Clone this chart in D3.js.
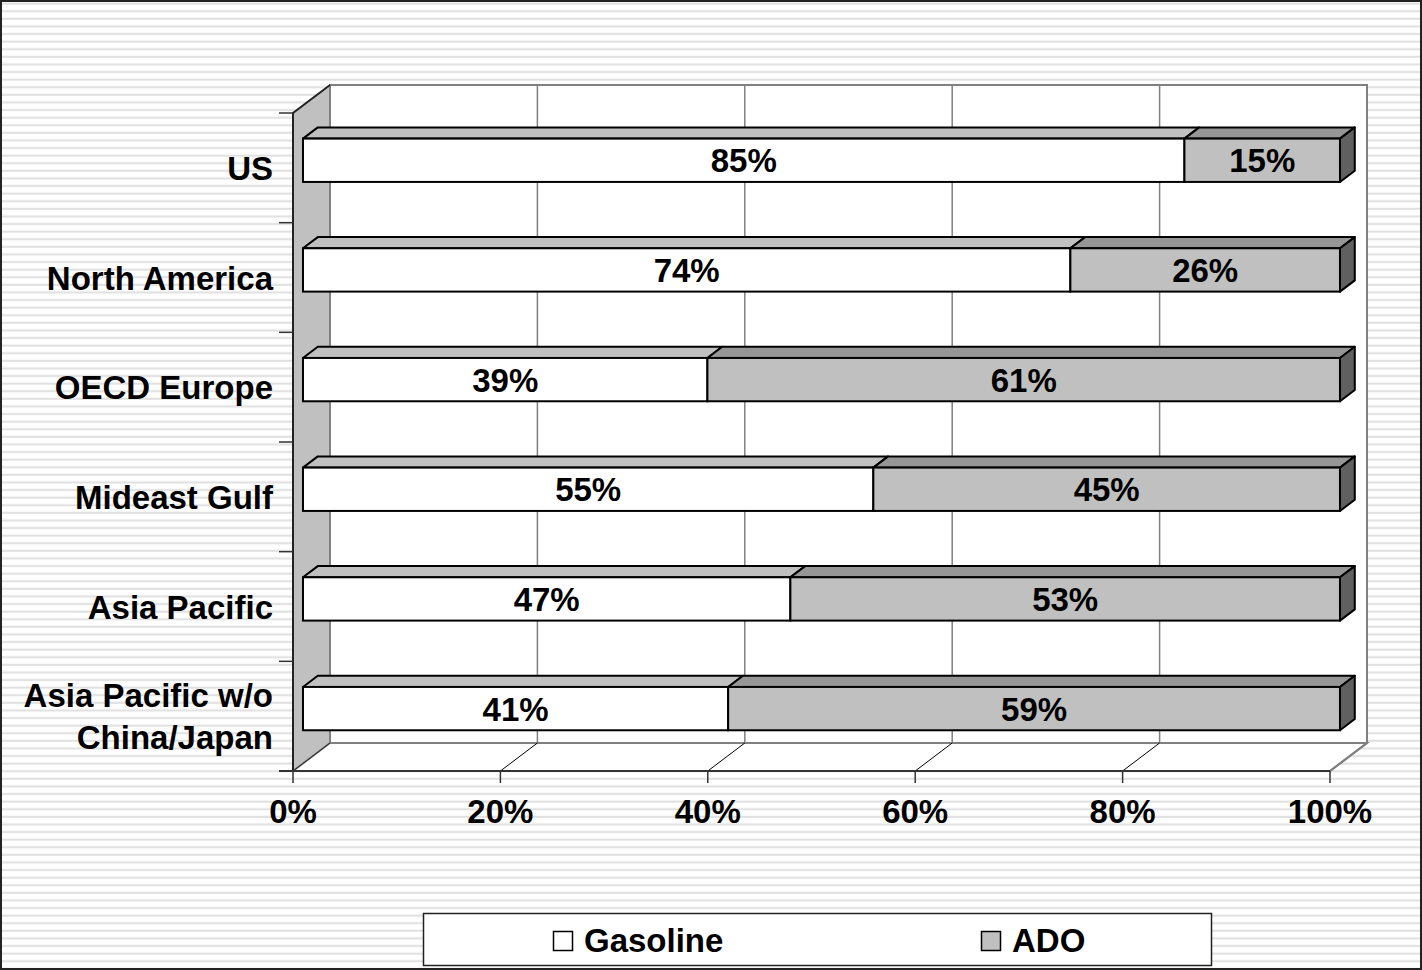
<!DOCTYPE html>
<html>
<head>
<meta charset="utf-8">
<script src="https://cdn.jsdelivr.net/npm/d3@7/dist/d3.min.js"></script>
<style>
  html, body { margin: 0; padding: 0; background: #fff; }
  svg { display: block; }
  text { font-family: Arial, "Liberation Sans", sans-serif; font-weight: bold; fill: #000; }
</style>
</head>
<body>
<svg id="chart" width="1422" height="970"></svg>
<script>
// Share of gasoline vs. ADO in light-fuel demand by region
const categories = ["US", "North America", "OECD Europe", "Mideast Gulf", "Asia Pacific", "Asia Pacific w/o\nChina/Japan"];
const gasoline = [85, 74, 39, 55, 47, 41];
const ado      = [15, 26, 61, 45, 53, 59];
const seriesNames = ["Gasoline", "ADO"];
const tickValues = [0, 20, 40, 60, 80, 100];
const tickLabels = ["0%", "20%", "40%", "60%", "80%", "100%"];

const W = 1422, H = 970;
const svg = d3.select("#chart");

// striped page background
const defs = svg.append("defs");
const pat = defs.append("pattern").attr("id", "stripes")
  .attr("patternUnits", "userSpaceOnUse").attr("width", 8).attr("height", 7.6);
pat.append("rect").attr("width", 8).attr("height", 7.6).attr("fill", "#ffffff");
pat.append("rect").attr("y", 2.6).attr("width", 8).attr("height", 2).attr("fill", "#e0e0e0");
svg.append("rect").attr("width", W).attr("height", H).attr("fill", "url(#stripes)");

// 3-D frame geometry: front plane and depth offset
const x = d3.scaleLinear().domain([0, 100]).range([293, 1330]);
const y = d3.scaleBand().domain(categories).range([113, 771]).padding(0);
const DX = 37, DY = -28;          // full depth of the plot box
const zFront = 0.27, zBack = 0.67; // bar depth span (fraction of box depth)
const barFrac = 0.395;             // bar thickness as fraction of band

const yTop = 113, yBot = 771;
const xL = x(0), xR = x(100);

// side wall (left)
svg.append("polygon")
  .attr("points", [[xL, yTop], [xL + DX, yTop + DY], [xL + DX, yBot + DY], [xL, yBot]].join(" "))
  .attr("fill", "#c0c0c0").attr("stroke", "none");
// back wall
svg.append("rect")
  .attr("x", xL + DX).attr("y", yTop + DY).attr("width", xR - xL).attr("height", yBot - yTop)
  .attr("fill", "#ffffff").attr("stroke", "#808080").attr("stroke-width", 2);
// floor
svg.append("polygon")
  .attr("points", [[xL, yBot], [xL + DX, yBot + DY], [xR + DX, yBot + DY], [xR, yBot]].join(" "))
  .attr("fill", "#ffffff").attr("stroke", "#808080").attr("stroke-width", 2);

// vertical gridlines on back wall + diagonal lines across floor
tickValues.forEach(v => {
  if (v > 0 && v < 100) {
    svg.append("line")
      .attr("x1", x(v) + DX).attr("x2", x(v) + DX)
      .attr("y1", yTop + DY).attr("y2", yBot + DY)
      .attr("stroke", "#808080").attr("stroke-width", 1.5);
  }
  if (v > 0) {
    svg.append("line")
      .attr("x1", x(v)).attr("y1", yBot)
      .attr("x2", x(v) + DX).attr("y2", yBot + DY)
      .attr("stroke", v === 100 ? "#808080" : "#000").attr("stroke-width", v === 100 ? 2 : 1);
  }
});

// side wall outline: front edge and top edge
svg.append("polyline")
  .attr("points", [[xL + DX, yTop + DY], [xL, yTop], [xL, yBot]].join(" "))
  .attr("fill", "none").attr("stroke", "#222").attr("stroke-width", 2);
svg.append("line")
  .attr("x1", xL).attr("y1", yBot).attr("x2", xL + DX).attr("y2", yBot + DY)
  .attr("stroke", "#222").attr("stroke-width", 1);

// front x-axis line and ticks
svg.append("line").attr("x1", xL - 14).attr("x2", xR).attr("y1", yBot).attr("y2", yBot)
  .attr("stroke", "#333").attr("stroke-width", 2);
tickValues.forEach((v, i) => {
  svg.append("line").attr("x1", x(v)).attr("x2", x(v)).attr("y1", yBot).attr("y2", yBot + 12)
    .attr("stroke", "#333").attr("stroke-width", 1.5);
  svg.append("text").attr("x", x(v)).attr("y", 823)
    .attr("text-anchor", "middle").attr("font-size", 33).text(tickLabels[i]);
});

// category boundary ticks on the left axis
const bounds = categories.map(c => y(c)).concat([yBot]);
bounds.forEach(b => {
  svg.append("line").attr("x1", xL - 14).attr("x2", xL).attr("y1", b).attr("y2", b)
    .attr("stroke", "#333").attr("stroke-width", 1.5);
});

// category labels (multi-line where needed)
categories.forEach(c => {
  const lines = c.split("\n");
  const cy = y(c) + y.bandwidth() / 2;
  const lh = 42;
  const t = svg.append("text").attr("text-anchor", "end").attr("font-size", 33);
  lines.forEach((ln, i) => {
    t.append("tspan").attr("x", 273)
      .attr("y", cy + (i - (lines.length - 1) / 2) * lh + 12)
      .text(ln);
  });
});

// stacked 3-D bars
const fdx = DX * zFront, fdy = DY * zFront;
const bdx = DX * (zBack - zFront), bdy = DY * (zBack - zFront);
const faceColors = ["#ffffff", "#c0c0c0"];
const topColors = ["#c0c0c0", "#969696"];
const sideColor = "#606060";

categories.forEach((c, i) => {
  const vals = [gasoline[i], ado[i]];
  const bw = y.bandwidth();
  const top = y(c) + bw * (1 - barFrac) / 2 + fdy;
  const bot = top + bw * barFrac;
  let acc = 0;
  const g = svg.append("g");
  vals.forEach((v, k) => {
    const X0 = x(acc) + fdx, X1 = x(acc + v) + fdx;
    // top face
    g.append("polygon")
      .attr("points", [[X0, top], [X0 + bdx, top + bdy], [X1 + bdx, top + bdy], [X1, top]].join(" "))
      .attr("fill", topColors[k]).attr("stroke", "#000").attr("stroke-width", 2)
      .attr("stroke-linejoin", "round");
    // front face
    g.append("rect").attr("x", X0).attr("y", top).attr("width", X1 - X0).attr("height", bot - top)
      .attr("fill", faceColors[k]).attr("stroke", "#000").attr("stroke-width", 2);
    // right end
    if (k === vals.length - 1) {
      g.append("polygon")
        .attr("points", [[X1, top], [X1 + bdx, top + bdy], [X1 + bdx, bot + bdy], [X1, bot]].join(" "))
        .attr("fill", sideColor).attr("stroke", "#000").attr("stroke-width", 2)
        .attr("stroke-linejoin", "round");
    }
    // value label
    g.append("text").attr("x", (X0 + X1) / 2).attr("y", (top + bot) / 2 + 12)
      .attr("text-anchor", "middle").attr("font-size", 33).text(v + "%");
    acc += v;
  });
});

// legend
const lg = svg.append("g");
lg.append("rect").attr("x", 423.5).attr("y", 913.5).attr("width", 788).attr("height", 52)
  .attr("fill", "#fff").attr("stroke", "#222").attr("stroke-width", 1.5);
const legendX = [553, 981];
seriesNames.forEach((s, k) => {
  lg.append("rect").attr("x", legendX[k] + 0.5).attr("y", 931.5).attr("width", 19).attr("height", 19)
    .attr("fill", faceColors[k]).attr("stroke", "#000").attr("stroke-width", 1.5);
  lg.append("text").attr("x", legendX[k] + 31).attr("y", 952).attr("font-size", 33).text(s);
});

// outer frame
svg.append("rect").attr("x", 1).attr("y", 1).attr("width", W - 2).attr("height", H - 2)
  .attr("fill", "none").attr("stroke", "#222").attr("stroke-width", 2);
</script>
</body>
</html>
